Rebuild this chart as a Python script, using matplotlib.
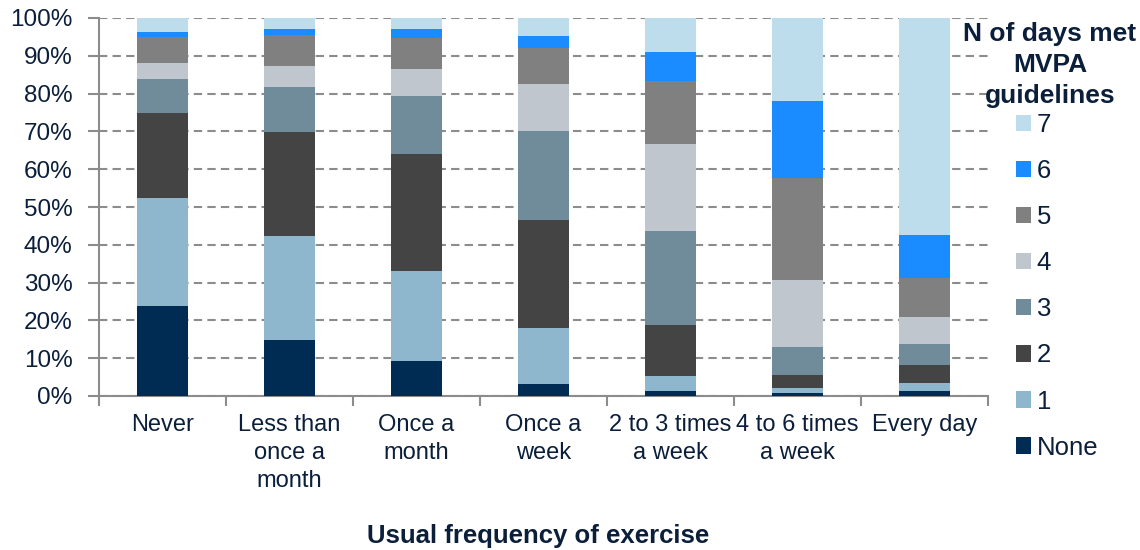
import numpy as np
import matplotlib
matplotlib.use("Agg")
from matplotlib import pyplot as plt

plt.rcParams['font.family'] = ['Liberation Sans', 'DejaVu Sans']

# usual frequency of exercise (x categories)
categories = ["Never", "Less than\nonce a\nmonth", "Once a\nmonth", "Once a\nweek",
              "2 to 3 times\na week", "4 to 6 times\na week", "Every day"]

# share (%) of people by number of days meeting MVPA guidelines
days_none = [23.8, 14.9, 9.3, 3.3, 1.3, 0.8, 1.3]
days_1 = [28.6, 27.5, 23.7, 14.8, 4.0, 1.4, 2.2]
days_2 = [22.6, 27.5, 31.1, 28.5, 13.6, 3.4, 4.7]
days_3 = [8.9, 11.8, 15.3, 23.5, 24.8, 7.4, 5.6]
days_4 = [4.3, 5.6, 7.2, 12.4, 23.0, 17.6, 7.0]
days_5 = [6.8, 8.1, 8.2, 9.5, 16.6, 27.0, 10.4]
days_6 = [1.2, 1.7, 2.3, 3.2, 7.7, 20.4, 11.5]
days_7 = [3.8, 2.9, 2.9, 4.8, 9.0, 22.0, 57.3]

series_labels = ["None", "1", "2", "3", "4", "5", "6", "7"]
series = [days_none, days_1, days_2, days_3, days_4, days_5, days_6, days_7]
colors = ["#002C54", "#8EB7CD", "#444444", "#708B99",
          "#BFC6CE", "#808080", "#1A8CFF", "#BDDCEC"]

text_col = "#0B1F3A"
axis_col = "#8C8C8C"

fig = plt.figure(figsize=(11.4, 5.5), dpi=100)
ax = fig.add_axes([99/1140, 1-396/550, (988-99)/1140, (396-18)/550])

x = np.arange(len(categories))
bottom = np.zeros(len(categories))
handles = []
for vals, lab, col in zip(series, series_labels, colors):
    b = ax.bar(x, vals, 0.4, bottom=bottom, color=col, label=lab, zorder=3)
    handles.append(b)
    bottom += np.array(vals)

ax.set_xlim(-0.5, len(categories) - 0.5)
ax.set_ylim(0, 100)
ax.set_yticks(np.arange(0, 101, 10))
ax.set_yticklabels([f"{v}%" for v in range(0, 101, 10)])
ax.yaxis.grid(True, linestyle=(0, (4, 2.5)), color=axis_col, linewidth=1.5, zorder=0)

# ticks between categories, labels at centres
ax.set_xticks(np.arange(-0.5, len(categories), 1))
ax.set_xticklabels([])
ax.set_xticks(x, minor=True)
ax.set_xticklabels(categories, minor=True)
for t in ax.get_xticklabels(minor=True):
    t.set_linespacing(1.35)
ax.tick_params(axis='x', which='major', length=7, width=1.5, color=axis_col, direction='out')
ax.tick_params(axis='x', which='minor', length=0, pad=13, labelsize=17, labelcolor=text_col)
ax.tick_params(axis='y', length=8, width=1.5, color=axis_col, pad=11, labelsize=17.5, labelcolor=text_col)

for s in ['top', 'right']:
    ax.spines[s].set_visible(False)
for s in ['left', 'bottom']:
    ax.spines[s].set_color(axis_col)
    ax.spines[s].set_linewidth(1.5)

fig.text(538/1140, 1-536/550, "Usual frequency of exercise", ha='center', va='center',
         fontsize=18.5, fontweight='bold', color=text_col)

fig.text(1050/1140, 1-22/550, "N of days met\nMVPA\nguidelines", ha='center', va='top',
         fontsize=19, fontweight='bold', color=text_col, linespacing=1.38)

leg = fig.legend(handles[::-1], series_labels[::-1], loc='upper left',
                 bbox_to_anchor=(1016/1140, 1-113/550), frameon=False,
                 borderpad=0, borderaxespad=0, handlelength=0.6, handleheight=0.6,
                 handletextpad=0.2, labelspacing=0.86, fontsize=18.5)
for t in leg.get_texts():
    t.set_color(text_col)

fig.savefig("out.png", dpi=100)
